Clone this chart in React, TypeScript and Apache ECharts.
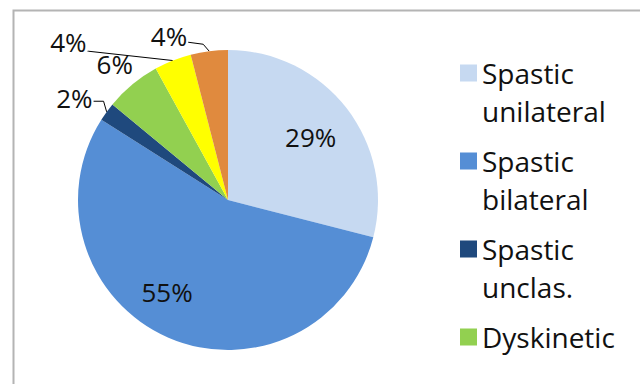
import React, { useEffect, useRef } from "react";
import * as echarts from "echarts";

const categories = [
  "Spastic unilateral",
  "Spastic bilateral",
  "Spastic unclas.",
  "Dyskinetic",
  "Ataxic",
  "Unclassified",
];
const values = [29, 55, 2, 6, 4, 4];
const colors = ["#C6D9F1", "#558ED5", "#1F497D", "#92D050", "#FFFF00", "#E08A3E"];
const legendNames = ["Spastic unilateral", "Spastic bilateral", "Spastic unclas.", "Dyskinetic"];

const FONT = "'Open Sans', 'Noto Sans', sans-serif";
const LINE_H = 38;
const ICON = 17;
// icon path: square aligned with the first text line, bbox spanning two lines
const iconPath = `path://M0,0L0.01,0M0,${LINE_H / 2 - ICON / 2}H${ICON}V${LINE_H / 2 + ICON / 2}H0ZM0,${LINE_H * 2}L0.01,${LINE_H * 2}`;

const labelShift: Record<number, { dx: number; dy: number }> = {
  0: { dx: 21, dy: -15 },
  1: { dx: -30, dy: 20 },
  2: { dx: 15, dy: -29 },
  3: { dx: 37, dy: -35 },
  4: { dx: -39, dy: -29 },
  5: { dx: -6, dy: -7 },
};
// leader line shape: offsets [x, y] of the elbow and end from the label's right-middle
const leader: Record<number, { end: [number, number]; elbow: [number, number] }> = {
  2: { end: [1, 3], elbow: [11, 3] },
  4: { end: [1, 9], elbow: [2, 9] },
  5: { end: [1, 6], elbow: [16, 8] },
};

export default function App() {
  const ref = useRef<HTMLDivElement>(null);
  useEffect(() => {
    document.body.style.margin = "0";
    const chart = echarts.init(ref.current!, undefined, { renderer: "svg" });
    chart.setOption({
      animation: false,
      backgroundColor: "#ffffff",
      graphic: [
        {
          type: "rect",
          left: 11,
          top: 8,
          shape: { width: 700, height: 420 },
          style: { fill: "none", stroke: "#b4b4b4", lineWidth: 2 },
          silent: true,
        },
      ],
      legend: {
        orient: "vertical",
        left: 455,
        top: 49,
        height: 420,
        itemWidth: ICON,
        itemHeight: LINE_H * 2,
        itemGap: 12,
        icon: iconPath,
        itemStyle: { borderWidth: 0 },
        data: legendNames,
        formatter: (name: string) =>
          name.indexOf(" ") >= 0 ? name.replace(" ", "\n") : name + "\n ",
        textStyle: {
          fontFamily: FONT,
          fontSize: 28,
          lineHeight: LINE_H,
          color: "#111",
        },
      },
      series: [
        {
          type: "pie",
          center: [228, 200],
          radius: 150,
          startAngle: 90,
          clockwise: true,
          itemStyle: { borderWidth: 0 },
          label: {
            show: true,
            formatter: "{c}%",
            fontFamily: FONT,
            fontSize: 26,
            color: "#111",
          },
          labelLine: {
            show: true,
            length: 8,
            length2: 10,
            lineStyle: { color: "#000", width: 1 },
          },
          labelLayout: (p: any) => {
            const s = labelShift[p.dataIndex];
            if (!s) return {};
            const out: any = { dx: s.dx, dy: s.dy };
            const l = leader[p.dataIndex];
            if (l && p.labelLinePoints && p.labelRect) {
              const r = p.labelRect;
              const rx = r.x + r.width + s.dx;
              const my = r.y + r.height / 2 + s.dy;
              out.labelLinePoints = [
                p.labelLinePoints[0],
                [rx + l.elbow[0], my + l.elbow[1]],
                [rx + l.end[0], my + l.end[1]],
              ];
            }
            return out;
          },
          data: categories.map((name, i) => ({
            name,
            value: values[i],
            itemStyle: { color: colors[i] },
            label: i < 2 ? { position: "inside" } : undefined,
            labelLine: i < 2 || i === 3 ? { show: false } : undefined,
          })),
        },
      ],
    });
    return () => chart.dispose();
  }, []);
  return <div ref={ref} style={{ width: 640, height: 384 }} />;
}
